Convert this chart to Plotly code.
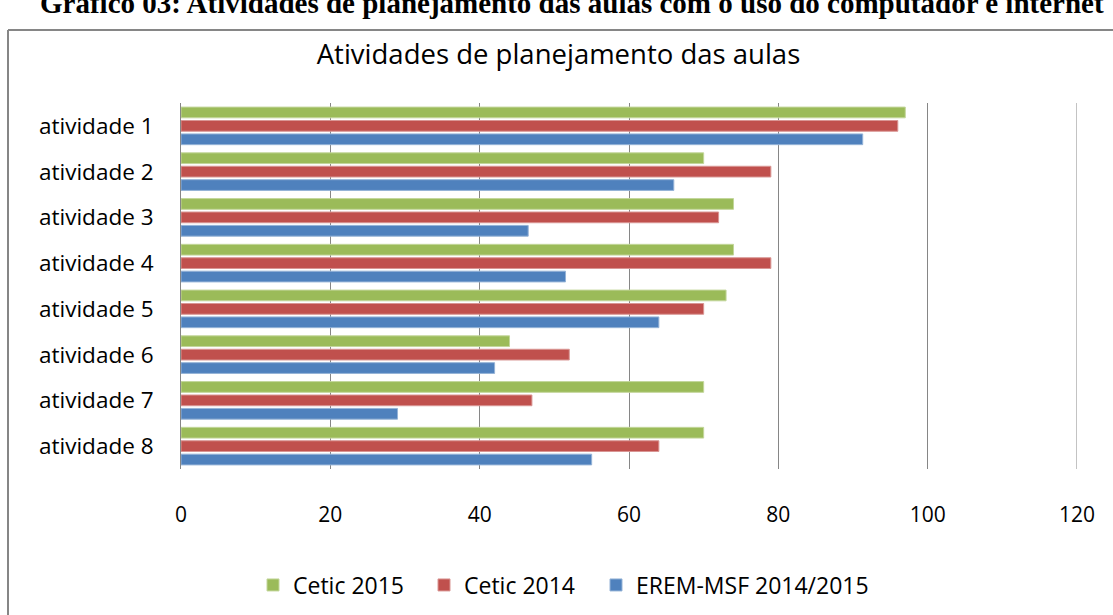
import plotly.graph_objects as go

categories = ["atividade 1", "atividade 2", "atividade 3", "atividade 4",
              "atividade 5", "atividade 6", "atividade 7", "atividade 8"]
cetic_2015 = [97, 70, 74, 74, 73, 44, 70, 70]
cetic_2014 = [96, 79, 72, 79, 70, 52, 47, 64]
erem_msf = [91.3, 66, 46.5, 51.5, 64, 42, 29, 55]
x_ticks = [0, 20, 40, 60, 80, 100, 120]

series = [
    ("Cetic 2015", cetic_2015, "#9BBB59", "#C3D69B", "legend", 269),
    ("Cetic 2014", cetic_2014, "#C0504D", "#D99694", "legend2", 440),
    ("EREM-MSF 2014/2015", erem_msf, "#4F81BD", "#95B3D7", "legend3", 612),
]

W, H = 1113, 615
L, R, T, B = 181, 1077, 103, 469

def px(p):
    return (p - L) / (R - L)

def py(q):
    return (B - q) / (B - T)

FONT = "Open Sans, sans-serif"

fig = go.Figure()
legends = {}
for name, vals, col, edge, lg, mx in series:
    fig.add_trace(go.Bar(
        y=categories, x=vals, name=name, orientation="h", legend=lg,
        marker=dict(color=col, line=dict(color=edge, width=1)),
    ))
    legends[lg] = dict(orientation="h", x=px(mx - 16), xanchor="left",
                       y=py(585), yanchor="middle",
                       font=dict(size=23, family=FONT), itemwidth=30,
                       bgcolor="rgba(0,0,0,0)")

shapes = [
    dict(type="line", xref="paper", yref="paper", x0=px(8), x1=px(1125),
         y0=py(30), y1=py(30), line=dict(color="#868686", width=2)),
    dict(type="line", xref="paper", yref="paper", x0=px(8), x1=px(8),
         y0=py(30), y1=py(625), line=dict(color="#868686", width=2)),
    dict(type="line", xref="x", yref="paper", x0=120, x1=120,
         y0=0, y1=1, line=dict(color="#868686", width=1), layer="below"),
]

fig.update_layout(
    width=W, height=H,
    margin=dict(l=L, r=W - R, t=T, b=H - B, autoexpand=False),
    paper_bgcolor="white", plot_bgcolor="white",
    barmode="group", bargap=0.12, bargroupgap=0.2,
    showlegend=True,
    font=dict(family=FONT, color="#000000"),
    title=dict(text="Atividades de planejamento das aulas",
               x=558.5 / W, xanchor="center", y=1 - 54.5 / H, yanchor="middle",
               font=dict(size=27.5, family=FONT, color="#000000")),
    xaxis=dict(range=[0, 120], tickvals=x_ticks, showgrid=True,
               gridcolor="#868686", gridwidth=1, zeroline=False,
               showline=False, ticks="", tickfont=dict(size=21),
               ticklabelstandoff=31),
    yaxis=dict(autorange="reversed", showline=True, linecolor="#868686",
               linewidth=1, ticks="", tickfont=dict(size=22.5),
               ticklabelstandoff=22),
    shapes=shapes,
    annotations=[dict(
        text="<b>Gráfico 03: Atividades de planejamento das aulas com o uso do computador e internet</b>",
        xref="paper", yref="paper", x=px(572), y=py(3), xanchor="center",
        yanchor="middle", showarrow=False,
        font=dict(family="Liberation Serif, serif", size=29, color="#000000"))],
    **legends,
)

fig.write_html("out.html", config={"displayModeBar": False},
               post_script="document.body.style.margin='0';")
